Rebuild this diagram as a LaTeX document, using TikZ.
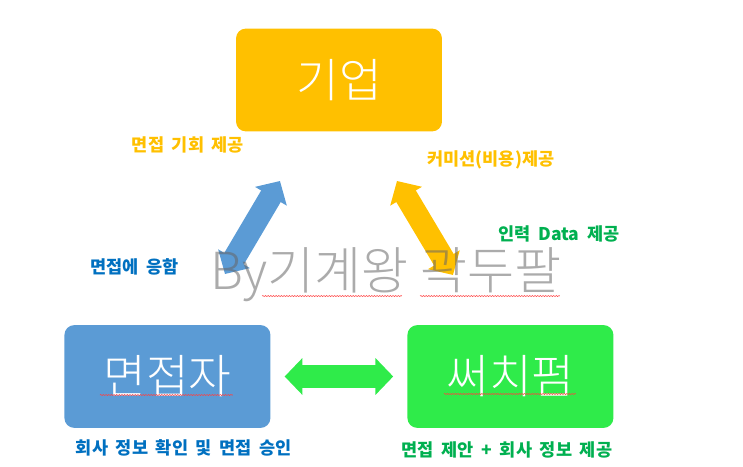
\documentclass[tikz,border=0pt]{standalone}
\usepackage{fontspec}
\setmainfont{Noto Sans CJK KR}
\newfontfamily\lightfont{Noto Sans CJK KR Light}
\usepackage{xcolor}
\usetikzlibrary{positioning}
\usetikzlibrary{arrows.meta}
\usetikzlibrary{decorations.pathmorphing}
\definecolor{boxorange}{HTML}{FFC000}
\definecolor{boxblue}{HTML}{5B9BD5}
\definecolor{boxgreen}{HTML}{2FEB4A}
\definecolor{textblue}{HTML}{0070C0}
\definecolor{textgreen}{HTML}{00B050}
\newcommand{\remarkfont}{\fontsize{13.2}{15}\selectfont\bfseries\setlength{\spaceskip}{0.44em}}
\tikzstyle{party} = [rectangle, rounded corners=0.26cm, minimum width=5.45cm, minimum height=2.72cm, text centered, text=white, font=\lightfont\fontsize{35}{38}\selectfont]
\tikzstyle{remark} = [font=\remarkfont, inner sep=0pt]
\tikzstyle{flow} = [line width=0.6cm, {Triangle[length=0.47cm,width=0.95cm]}-{Triangle[length=0.47cm,width=0.95cm]}]
\tikzstyle{squiggle} = [red!75, line width=0.4pt, decorate, decoration={snake, amplitude=0.4pt, segment length=2pt}]

\begin{document}
\begin{tikzpicture}[node distance=1cm]
        \useasboundingbox (0,0) rectangle (19.66,-12.356);
        \node (company) [party, fill=boxorange] at (8.97,-2.117) {기업};
        \node (applicant) [party, fill=boxblue, below of=company, xshift=-4.54cm, yshift=-6.845cm] {면접자};
        \node (firm) [party, fill=boxgreen, below of=company, xshift=4.536cm, yshift=-6.845cm] {써치펌};

        \node (offerLabel) [remark, text=boxorange, below of=company, xshift=-3.995cm, yshift=-0.72cm] {면접 기회 제공};
        \node (feeLabel) [remark, text=boxorange, below of=company, xshift=4.02cm, yshift=-1.117cm] {커미션(비용)제공};
        \node (dataLabel) [remark, text=textgreen, above of=firm, xshift=1.283cm, yshift=2.77cm] {인력 Data 제공};
        \node (acceptLabel) [remark, text=textblue, above of=applicant, xshift=-0.86cm, yshift=1.897cm] {면접에 응함};
        \node (checkLabel) [remark, text=textblue, below of=applicant, xshift=0.437cm, yshift=-0.892cm] {회사 정보 확인 및 면접 승인};
        \node (proposeLabel) [remark, text=textgreen, below of=firm, xshift=-0.093cm, yshift=-0.945cm] {면접 제안 + 회사 정보 제공};

        \coordinate (blueTop) at (7.408,-4.789);
        \coordinate (blueEnd) at (5.953,-7.25);
        \coordinate (orangeTop) at (10.504,-4.789);
        \coordinate (orangeEnd) at (11.986,-7.276);

        \draw [flow, boxblue] (blueTop) -- (blueEnd);
        \draw [flow, boxorange] (orangeTop) -- (orangeEnd);
        \draw [flow, boxgreen, shorten <=0.37cm, shorten >=0.37cm] (applicant) -- (firm);

        \node (mark) [below of=company, xshift=1.244cm, yshift=-4.16cm, text=black!60, opacity=0.55, inner sep=0pt, font=\lightfont\fontsize{38.5}{42}\selectfont] {By기계왕 곽두팔};

        \draw [squiggle] ([xshift=-1.786cm,yshift=-0.49cm]applicant.center) -- ++(3.52,0);
        \draw [squiggle] ([xshift=-1.76cm,yshift=-0.463cm]firm.center) -- ++(3.49,0);
        \draw [squiggle] ([xshift=-3.28cm,yshift=-0.556cm]mark.center) -- ++(3.7,0);
        \draw [squiggle] ([xshift=0.9cm,yshift=-0.556cm]mark.center) -- ++(3.7,0);
    \end{tikzpicture}
\end{document}
